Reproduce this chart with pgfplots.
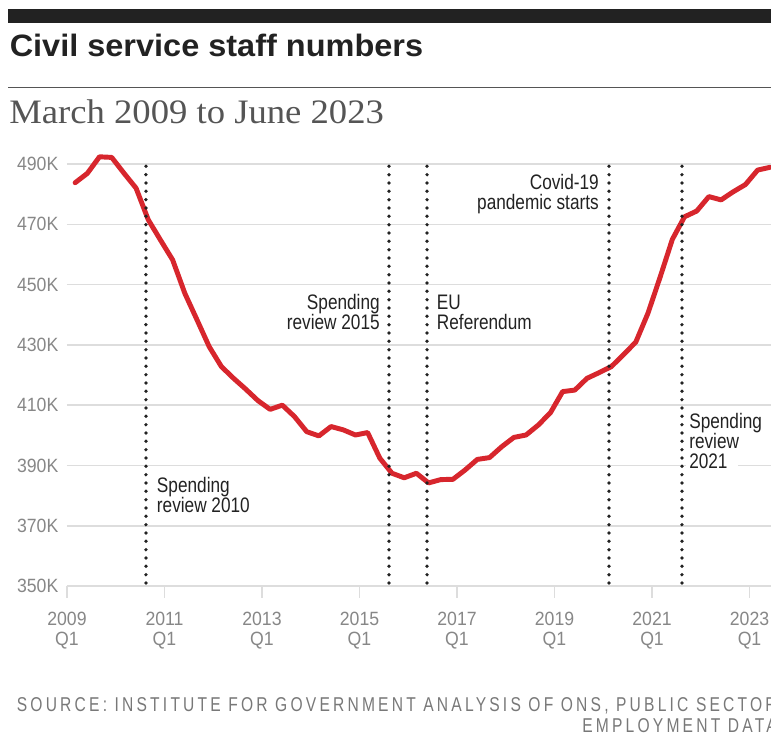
\documentclass[border=0pt]{standalone}
\usepackage{fontspec}
\usepackage{pgfplots}
\usepackage{pgfplotstable}
\pgfplotsset{compat=1.18}
\setmainfont{Liberation Sans}
\newfontfamily\titlefont[FakeStretch=1.05]{Liberation Sans}
\newfontfamily\subfont[FakeStretch=1.07]{Liberation Serif}
\newfontfamily\tickfamily[FakeStretch=0.92]{Liberation Sans}
\newfontfamily\annfamily[FakeStretch=0.82]{Liberation Sans}
\newfontfamily\srcfamily[FakeStretch=0.78,LetterSpace=16]{Liberation Sans}
\definecolor{redline}{RGB}{215,38,45}
\definecolor{gridgray}{RGB}{221,221,221}
\definecolor{tickgray}{RGB}{135,135,135}
\definecolor{darktext}{RGB}{34,34,34}
\definecolor{subgray}{RGB}{85,85,85}
\definecolor{srcgray}{RGB}{120,120,120}
\newcommand\tickfont{\tickfamily\fontsize{14.4pt}{15pt}\selectfont}
\newcommand\annfont{\annfamily\fontsize{15.75pt}{14pt}\selectfont}
\pgfplotstableread{
x y
2009.167 483.8
2009.417 486.9
2009.667 492.4
2009.917 492.2
2010.167 487.0
2010.417 482.0
2010.667 471.5
2010.917 464.8
2011.167 458.2
2011.417 447.1
2011.667 438.3
2011.917 429.4
2012.167 422.8
2012.417 418.9
2012.667 415.3
2012.917 411.5
2013.167 408.6
2013.417 410.0
2013.667 406.2
2013.917 401.2
2014.167 399.8
2014.417 402.9
2014.667 401.8
2014.917 400.1
2015.167 400.9
2015.417 392.4
2015.667 387.4
2015.917 385.9
2016.167 387.4
2016.417 384.2
2016.667 385.3
2016.917 385.4
2017.167 388.5
2017.417 392.0
2017.667 392.6
2017.917 396.2
2018.167 399.3
2018.417 400.1
2018.667 403.4
2018.917 407.5
2019.167 414.5
2019.417 415.0
2019.667 418.9
2019.917 420.8
2020.167 422.8
2020.417 426.8
2020.667 430.9
2020.917 440.5
2021.167 452.5
2021.417 465.0
2021.667 472.5
2021.917 474.4
2022.167 479.2
2022.417 478.1
2022.667 480.8
2022.917 483.2
2023.167 488.0
2023.417 488.9
}\staff
\begin{document}
\begin{tikzpicture}[x=0.75pt,y=0.75pt]
\useasboundingbox (0,0) rectangle (771,737);
\clip (0,0) rectangle (771,737);
% header
\fill[darktext] (8,714.3) rectangle (771,727.7);
\node[anchor=base west, inner sep=0, text=darktext] at (9.5,680.3) {\titlefont\fontsize{23.2pt}{26pt}\selectfont\bfseries Civil service staff numbers};
\draw[subgray, line width=1.1pt] (8,649.3) -- (771,649.3);
\node[anchor=base west, inner sep=0, text=subgray] at (9,613) {\subfont\fontsize{25.7pt}{28pt}\selectfont March 2009 to June 2023};
\begin{axis}[
  at={(50.25pt,113.25pt)}, anchor=south west,
  width=528pt, height=327.77pt, scale only axis,
  xmin=2009, xmax=2023.441, ymin=350, ymax=495,
  axis line style={draw=none},
  ytick={350,370,...,490},
  yticklabels={350K,370K,390K,410K,430K,450K,470K,490K},
  ymajorgrids, grid style={color=gridgray, line width=1.2pt},
  xtick={2009,2011,...,2023},
  xticklabels={{2009\\Q1},{2011\\Q1},{2013\\Q1},{2015\\Q1},{2017\\Q1},{2019\\Q1},{2021\\Q1},{2023\\Q1}},
  xtick pos=left,
  tick align=outside,
  major tick length=9pt,
  xtick style={color=gridgray, line width=1.2pt},
  ytick style={draw=none},
  xticklabel style={font=\tickfont, text=tickgray, align=center, yshift=-7pt},
  yticklabel style={font=\tickfont, text=tickgray, xshift=6pt},
  clip=false,
]
\addplot[color=redline, line width=3.7pt, line join=round, line cap=round] table[x=x,y=y] {\staff};
\addplot[darktext, line width=2.8pt, line cap=round, dash pattern=on 0pt off 6.25pt] coordinates {(2010.62,351) (2010.62,489.5)};
\addplot[darktext, line width=2.8pt, line cap=round, dash pattern=on 0pt off 6.25pt] coordinates {(2015.605,351) (2015.605,489.5)};
\addplot[darktext, line width=2.8pt, line cap=round, dash pattern=on 0pt off 6.25pt] coordinates {(2016.385,351) (2016.385,489.5)};
\addplot[darktext, line width=2.8pt, line cap=round, dash pattern=on 0pt off 6.25pt] coordinates {(2020.118,351) (2020.118,489.5)};
\addplot[darktext, line width=2.8pt, line cap=round, dash pattern=on 0pt off 6.25pt] coordinates {(2021.615,351) (2021.615,489.5)};
\end{axis}
% annotations
\fill[white] (686,263) rectangle (738,279);
\begin{scope}[every node/.style={inner sep=0, text=darktext, font=\annfont}]
\node[anchor=base west] at (156.7,244.3) {Spending};
\node[anchor=base west] at (156.7,224.6) {review 2010};
\node[anchor=base east] at (380,427.6) {Spending};
\node[anchor=base east] at (380,407.9) {review 2015};
\node[anchor=base west] at (436.7,427.6) {EU};
\node[anchor=base west] at (436.7,407.9) {Referendum};
\node[anchor=base east] at (599,547.3) {Covid-19};
\node[anchor=base east] at (599,527.5) {pandemic starts};
\node[anchor=base west] at (689,308.7) {Spending};
\node[anchor=base west] at (689,288.7) {review};
\node[anchor=base west] at (689,268) {2021};
\end{scope}
% source
\node[anchor=base east, inner sep=0, text=srcgray] at (777,25.3) {\srcfamily\fontsize{15pt}{16pt}\selectfont SOURCE: INSTITUTE FOR GOVERNMENT ANALYSIS OF ONS, PUBLIC SECTOR};
\node[anchor=base east, inner sep=0, text=srcgray] at (777,4) {\srcfamily\fontsize{15pt}{16pt}\selectfont EMPLOYMENT DATA};
\end{tikzpicture}
\end{document}
